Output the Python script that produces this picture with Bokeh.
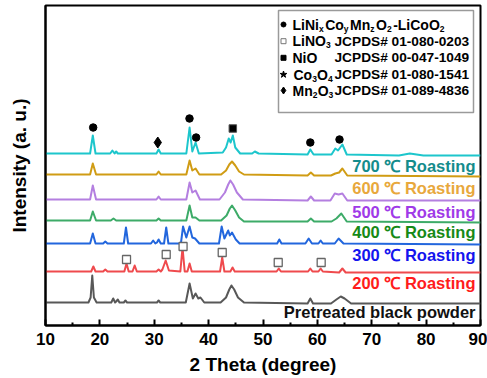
from bokeh.plotting import figure
from bokeh.models import Range1d, FixedTicker, ColumnDataSource
from bokeh.embed import file_html
from bokeh.resources import INLINE
from bokeh.core.properties import value

# ---------------- data ----------------
x_700 = [10, 18.2, 18.7, 19.2, 21.9, 22.3, 22.7, 23.0, 23.3, 23.6, 30.4, 30.8, 31.2,
         35.9, 36.5, 37.0, 37.6, 38.2, 42.6, 43.2, 43.7, 44.05, 44.45, 44.9, 45.8,
         48.0, 48.5, 49.2, 58.2, 58.7, 59.3, 62.6, 63.3, 63.8, 64.6, 65.4, 75.0, 77.0, 79.5, 90]
y_700 = [172, 172, 190, 172, 172, 175, 172, 174, 172, 172, 172, 176, 172,
         172, 198, 174, 183, 172, 173, 178, 187, 183, 190, 178, 172,
         172, 174, 172, 171, 176, 171, 171, 177, 175, 181, 171, 170, 172, 170, 170]

x_600 = [10, 18.2, 18.7, 19.3, 30.4, 30.8, 31.2, 35.9, 36.5, 37.0, 37.6, 38.3,
         42.3, 43.2, 43.8, 44.3, 44.9, 45.6, 46.5, 58.2, 58.8, 59.4,
         62.5, 63.3, 64.0, 64.6, 65.5, 90]
y_600 = [151, 151, 162, 151, 151, 154, 151, 151, 165, 155, 157, 151,
         151, 155, 161, 164, 160, 154, 151, 150, 153, 150,
         150, 152, 153, 157, 150, 149]

x_500 = [10, 18.2, 18.7, 19.3, 30.4, 30.8, 31.2, 35.9, 36.5, 37.0, 37.6, 38.4,
         42.0, 43.0, 43.6, 44.0, 44.5, 45.2, 46.3, 58.2, 58.8, 59.4,
         62.4, 63.2, 63.9, 64.6, 65.5, 90]
y_500 = [126, 126, 140, 126, 126, 129, 126, 126, 143, 133, 135, 126,
         126, 133, 141, 145, 141, 133, 126, 125, 129, 125,
         125, 132, 131, 132, 125, 125]

x_400 = [10, 18.2, 18.7, 19.3, 22.0, 22.5, 23.0, 30.4, 30.8, 31.2,
         35.9, 36.5, 37.0, 37.6, 38.3, 42.3, 43.3, 43.9, 44.3, 44.9, 45.6, 46.5,
         58.2, 58.8, 59.4, 62.6, 63.5, 64.4, 65.4, 90]
y_400 = [105, 105, 114, 105, 105, 107, 105, 105, 107, 105,
         105, 120, 108, 108, 105, 105, 110, 117, 120, 115, 108, 104,
         104, 107, 104, 104, 107, 112, 104, 103]

x_300 = [10, 18.2, 18.7, 19.2, 20.6, 21.0, 21.4, 24.4, 24.8, 25.2,
         29.4, 29.8, 30.2, 30.5, 30.8, 31.2, 31.8, 32.2, 32.6,
         34.9, 35.3, 35.9, 36.5, 37.0, 37.5, 38.3,
         41.9, 42.4, 42.9, 43.6, 43.9, 44.3, 45.0, 45.7,
         52.6, 53.0, 53.4, 57.8, 58.4, 59.0, 60.2, 60.6, 61.0, 63.2, 63.9, 64.8, 90]
y_300 = [82, 82, 92, 82, 82, 84, 82, 82, 98, 82,
         82, 85, 82, 83, 86, 82, 82, 98, 82,
         82, 99, 88, 99, 88, 87, 82,
         82, 99, 87, 95, 90, 93, 86, 82,
         82, 86, 82, 82, 87, 82, 82, 85, 82, 82, 87, 82, 81]

x_200 = [10, 18.4, 18.8, 19.2, 20.6, 21.0, 21.4, 24.5, 24.9, 25.3, 26.0, 26.4, 26.8,
         30.4, 30.8, 31.2, 31.5, 32.1, 32.7, 34.8, 35.2, 35.6, 36.1, 36.5, 36.9,
         42.1, 42.5, 42.9, 44.0, 44.4, 44.8, 52.5, 52.9, 53.3, 58.3, 58.7, 59.1,
         60.2, 60.6, 61.0, 64.0, 64.6, 65.2, 90]
y_200 = [54, 54, 59, 54, 54, 56, 54, 54, 62, 54, 54, 60, 54,
         54, 56, 54, 56, 65, 55, 54, 78, 54, 54, 62, 54,
         54, 68, 54, 54, 58, 54, 54, 57, 54, 54, 57, 54,
         54, 57, 54, 53, 57, 53, 53]

x_pre = [10, 17.9, 18.3, 18.6, 18.9, 19.4, 22.1, 22.45, 22.8, 23.0, 23.3, 23.6,
         24.4, 24.7, 25.0, 30.5, 30.8, 31.1, 35.8, 36.5, 37.1, 37.6, 38.1, 38.5, 39.2,
         42.2, 43.2, 43.8, 44.2, 44.7, 45.4, 46.5, 58.2, 58.7, 59.2,
         62.5, 63.5, 64.3, 65.0, 66.2, 90]
y_pre = [23, 23, 28, 50, 28, 23, 23, 27, 23, 24, 26, 23,
         23, 25, 23, 23, 25, 23, 23, 42, 27, 32, 27, 28, 23,
         23, 28, 36, 40, 36, 28, 23, 22, 27, 22,
         22, 26, 29, 27, 22, 22]

series_x = [x_700, x_600, x_500, x_400, x_300, x_200, x_pre]
series_y = [y_700, y_600, y_500, y_400, y_300, y_200, y_pre]
line_colors = ["#1dc6cc", "#d09c14", "#b47fe0", "#3dab68", "#2266dd", "#ef4a4d", "#585858"]
labels = ["700 \u2103 Roasting", "600 \u2103 Roasting", "500 \u2103 Roasting",
          "400 \u2103 Roasting", "300 \u2103 Roasting", "200 \u2103 Roasting",
          "Pretreated black powder"]
label_colors = ["#148c8c", "#e8a83c", "#a03ae8", "#178a17", "#1414ee", "#ff1c1c", "#111111"]
label_y = [160, 138, 114, 94, 71, 43, 14]

# phase markers
circ_x = [18.77, 36.48, 37.7, 58.7, 64.07]
circ_y = [198, 207, 188, 183, 186]
diam_x = [30.65]
diam_y = [183]
nio_x = [44.45]
nio_y = [197]
lino3_x = [24.9, 32.2, 35.3, 42.5, 52.8, 60.7]
lino3_y = [66, 71, 79, 73, 63, 63]

x_ticks = [10, 20, 30, 40, 50, 60, 70, 80, 90]
x_minor = [15, 25, 35, 45, 55, 65, 75, 85]

FONT = "Liberation Sans"

# ---------------- figure ----------------
L, R, T, B = 45, 7, 5, 53
W, H = 487, 378
p = figure(width=W, height=H, x_range=Range1d(10, 90), y_range=Range1d(0, 320),
           output_backend="svg", toolbar_location=None,
           min_border_left=L, min_border_right=R, min_border_top=T, min_border_bottom=B)
p.grid.visible = False
p.outline_line_color = "black"
p.outline_line_width = 2
p.background_fill_color = "white"
p.border_fill_color = "white"

fw = W - L - R
fh = H - T - B
def px2x(px):
    return 10 + (px - L) * 80.0 / fw
def py2y(py):
    return (H - B) - py

xa = p.xaxis[0]
xa.ticker = FixedTicker(ticks=x_ticks, minor_ticks=x_minor)
xa.major_tick_in = 6
xa.major_tick_out = 0
xa.minor_tick_in = 3
xa.minor_tick_out = 0
xa.major_tick_line_width = 2
xa.minor_tick_line_width = 2
xa.axis_line_width = 2
xa.major_label_text_font = FONT
xa.major_label_text_font_style = "bold"
xa.major_label_text_font_size = "17px"
xa.major_label_text_color = "black"
xa.major_label_standoff = 7
xa.axis_label = "2 Theta (degree)"
xa.axis_label_text_font = FONT
xa.axis_label_text_font_style = "bold"
xa.axis_label_text_font_size = "19px"
xa.axis_label_text_color = "black"
xa.axis_label_standoff = 6

ya = p.yaxis[0]
ya.ticker = FixedTicker(ticks=[])
ya.major_tick_in = 0
ya.major_tick_out = 0
ya.minor_tick_in = 0
ya.minor_tick_out = 0
ya.major_label_standoff = 0
ya.axis_line_width = 2
ya.axis_label = "Intensity (a. u.)"
ya.axis_label_text_font = FONT
ya.axis_label_text_font_style = "bold"
ya.axis_label_text_font_size = "19px"
ya.axis_label_text_color = "black"
ya.axis_label_standoff = 16

for xs, ys, c in zip(series_x, series_y, line_colors):
    p.line(xs, ys, line_color=c, line_width=2, line_join="round")

# series labels
lab_x = px2x(475)
p.text(x=[lab_x] * len(labels), y=label_y, text=labels, text_color=label_colors,
       text_font=value(FONT), text_font_style="bold", text_font_size="16.5px",
       text_align="right", text_baseline="middle")

# phase markers
p.scatter(circ_x, circ_y, marker="circle", size=7.5, fill_color="black", line_color="black")
p.scatter(diam_x, diam_y, marker="diamond", size=11, fill_color="black", line_color="black")
p.scatter(nio_x, nio_y, marker="square", size=7.5, fill_color="black", line_color="#555555")
p.scatter(lino3_x, lino3_y, marker="square", size=8, fill_color="white", line_color="#666666", line_width=1.3)

# ---------------- legend box (glyph, drawn before its content) ----------------
p.quad(left=[px2x(278)], right=[px2x(473)], top=[py2y(10)], bottom=[py2y(112)],
       fill_color="white", line_color="#9a9a9a", line_width=1.5)

row_py = [24, 40.7, 57.3, 74, 90]
mk_x = px2x(283)
p.scatter([mk_x], [py2y(row_py[0])], marker="circle", size=5, fill_color="black", line_color="black")
p.scatter([mk_x], [py2y(row_py[1])], marker="square", size=5, fill_color="white", line_color="#777777")
p.scatter([mk_x], [py2y(row_py[2])], marker="square", size=5, fill_color="black", line_color="black")
p.scatter([mk_x], [py2y(row_py[3])], marker="star", size=7, fill_color="black", line_color="black")
p.scatter([mk_x], [py2y(row_py[4])], marker="diamond", size=7, fill_color="black", line_color="black")

# Arial-bold advance widths (1/1000 em)
AW = {"L": 611, "i": 278, "N": 722, "x": 556, "C": 722, "o": 611, "y": 556, "M": 833,
      "n": 611, "z": 500, "O": 778, "2": 556, "-": 333, "3": 556, "4": 556}
def tw(s, size):
    return sum(AW.get(ch, 556) for ch in s) * size / 1000.0

FM, FS = 14.0, 8.5
def rich(parts, x_px, row, gap=0.6):
    """parts: list of (text, is_sub)"""
    xs, ys, ts, sizes, offs = [], [], [], [], []
    cur = x_px
    for t, sub in parts:
        sz = FS if sub else FM
        xs.append(px2x(cur))
        ys.append(py2y(row))
        ts.append(t)
        sizes.append("%.1fpx" % sz)
        offs.append(4 if sub else 0)
        cur += tw(t, sz) + (gap if sub else 0)
    src = ColumnDataSource(dict(x=xs, y=ys, text=ts, size=sizes, off=offs))
    p.text(x="x", y="y", text="text", source=src, text_font=value(FONT), text_font_style="bold",
           text_font_size="size", y_offset="off", text_align="left", text_baseline="middle",
           text_color="black")

tx = 292
rich([("LiNi", False), ("x", True), ("Co", False), ("y", True), ("Mn", False), ("z", True),
      ("O", False), ("2", True), ("-LiCoO", False), ("2", True)], tx, row_py[0], gap=1.5)
rich([("LiNO", False), ("3", True)], tx, row_py[1])
rich([("NiO", False)], tx, row_py[2])
rich([("Co", False), ("3", True), ("O", False), ("4", True)], tx + 1, row_py[3], gap=0.2)
rich([("Mn", False), ("2", True), ("O", False), ("3", True)], tx, row_py[4], gap=0.2)

jcpds = ["JCPDS# 01-080-0203", "JCPDS# 00-047-1049", "JCPDS# 01-080-1541", "JCPDS# 01-089-4836"]
p.text(x=[px2x(334)] * 4, y=[py2y(r) for r in row_py[1:]], text=jcpds,
       text_font=value(FONT), text_font_style="bold", text_font_size="13.7px",
       text_align="left", text_baseline="middle", text_color="black")

open("out.html", "w").write(file_html(p, INLINE))
